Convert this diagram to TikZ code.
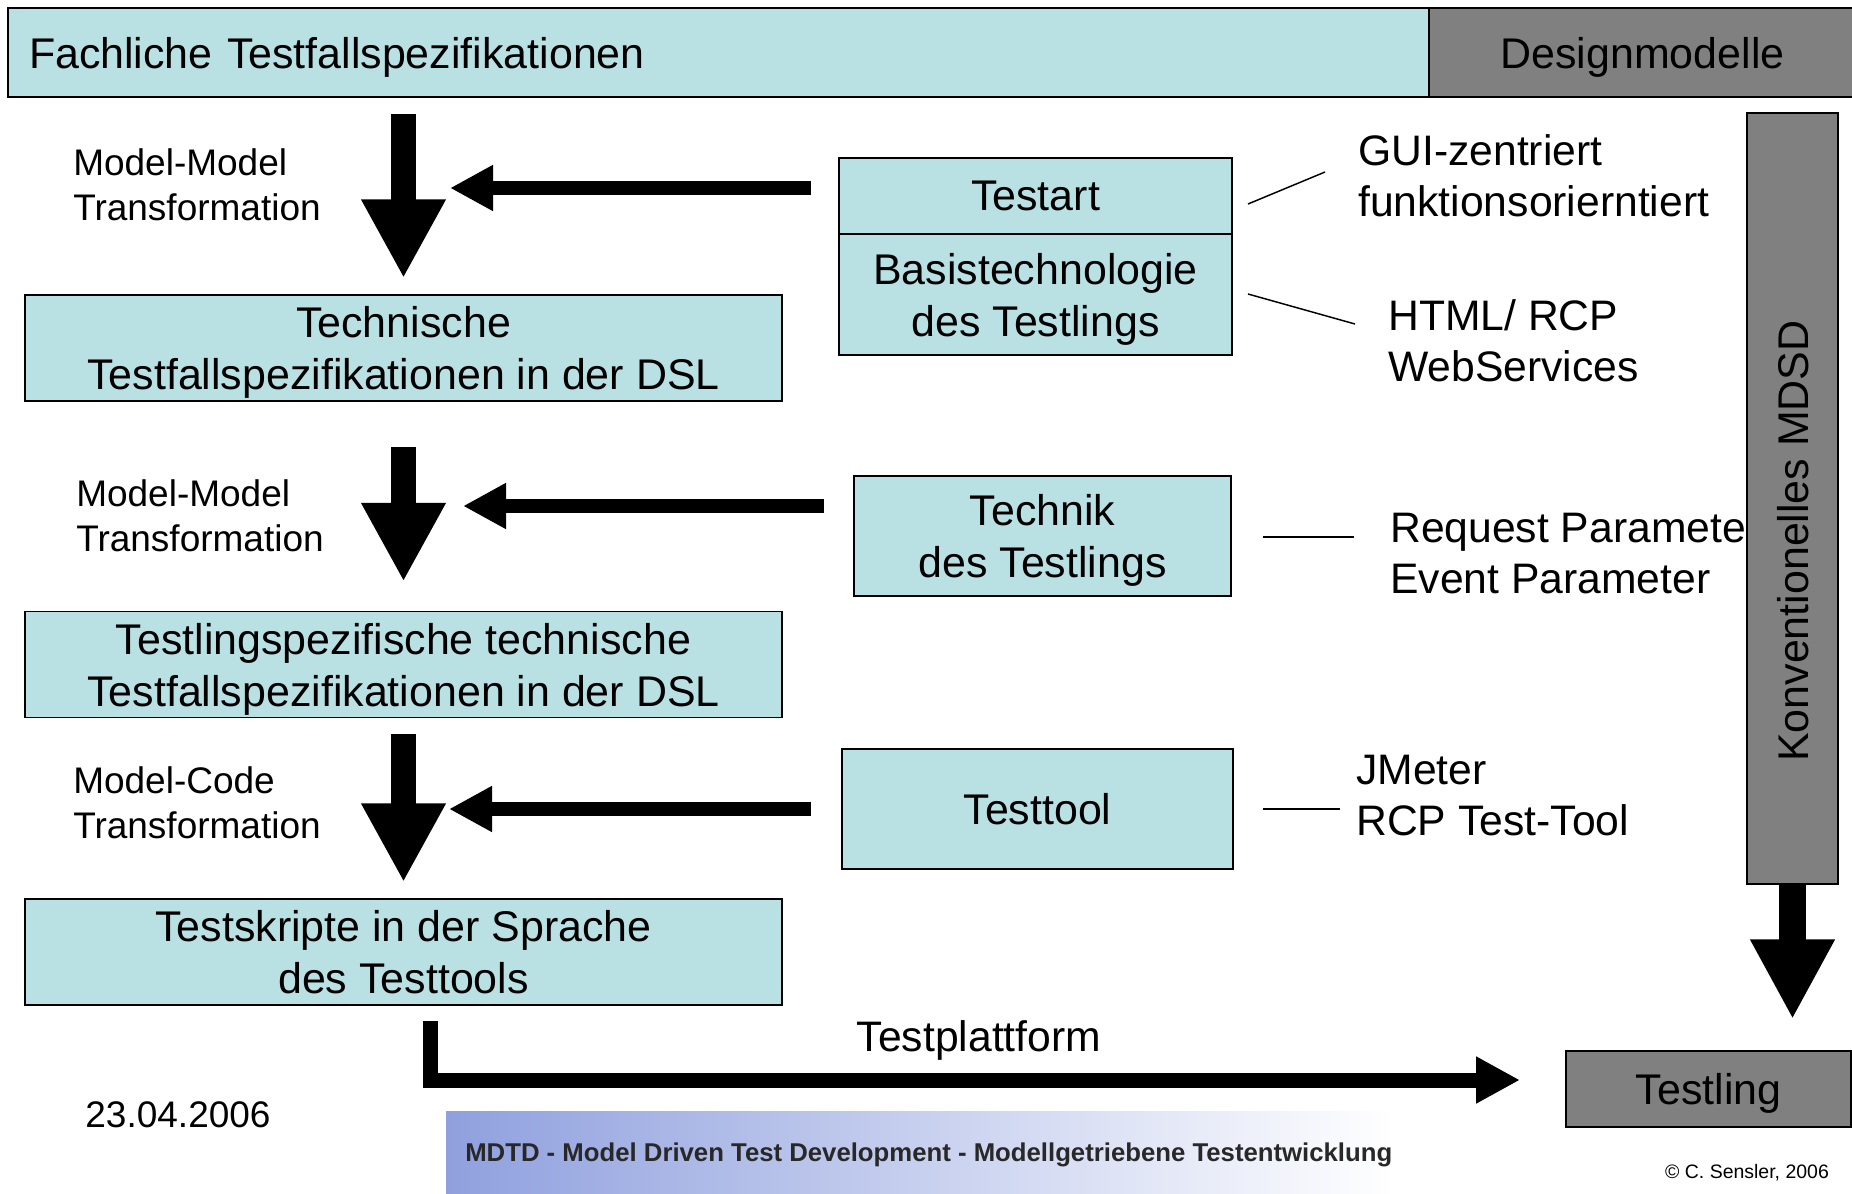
\documentclass[tikz,border=0pt]{standalone}
\usepackage{fontspec}
\setmainfont{Liberation Sans}
\usetikzlibrary{arrows.meta,calc}

\definecolor{specfill}{RGB}{185,224,227}
\definecolor{modelgray}{RGB}{128,128,128}
\definecolor{bannerblue}{RGB}{143,160,222}
\definecolor{bannertext}{RGB}{40,40,40}

\newcommand{\fs}[2]{\fontsize{#1}{#2}\selectfont}
% line without descender depth, so box text is centred on its letters
\newcommand{\nd}[1]{\raisebox{0pt}[\height][0pt]{#1}}

\begin{document}
\begin{tikzpicture}[x=0.75pt,y=-0.75pt,
  panel/.style 2 args={draw=black, line width=1.1pt, inner sep=0pt,
    minimum width={0.75pt*#1}, minimum height={0.75pt*#2},
    align=center, font=\fs{32.2}{39}},
  spec/.style={fill=specfill},
  grey/.style={fill=modelgray},
  note/.style={anchor=west, align=left, inner sep=0pt, font=\fs{32}{38.25}},
  trafo/.style={anchor=west, align=left, inner sep=0pt, font=\fs{27.75}{33.5}},
  flowarrow/.style={line width=18.75pt, -{Triangle[length=59.25pt,width=59.25pt]}},
  feedarrow/.style={line width=10.5pt, -{Triangle[length=32.25pt,width=32.25pt]}},
  leader/.style={line width=1.1pt},
]
\useasboundingbox (0,0) rectangle (1852,1193);

% header bar
\node[panel={1421}{89}, spec, line width=1.5pt, inner xsep=15.75pt,
      text width={0.75pt*1379}, align=left] (fach) at (718.5,52.5)
      {\nd{Fachliche Testfallspezifikationen}};
\node[panel={427}{89}, grey, line width=1.5pt] (design) at (1642.5,52.5)
      {\nd{Designmodelle}};

% left column: specification levels
\node[panel={757}{106}, spec] (tech) at (403.5,348)
  {Technische\\\nd{Testfallspezifikationen in der DSL}};
\node[panel={757}{106}, spec] (tlspec) at (403.5,664.5)
  {Testlingspezifische technische\\\nd{Testfallspezifikationen in der DSL}};
\node[panel={757}{106}, spec] (skript) at (403.5,952)
  {Testskripte in der Sprache\\\nd{des Testtools}};

% middle column: inputs of each transformation
\node[panel={393}{76}, spec] (testart) at (1035.5,196) {\nd{Testart}};
\node[panel={393}{121}, spec] (basis) at (1035.5,294.5)
  {Basistechnologie\\\nd{des Testlings}};
\node[panel={377}{120}, spec] (technik) at (1042.5,536)
  {Technik\\\nd{des Testlings}};
\node[panel={391}{120}, spec] (testtool) at (1037.5,809) {\nd{Testtool}};

% transformation labels
\node[trafo] (lab1) at (73,185) {Model-Model\\Transformation};
\node[trafo] (lab2) at (76,516) {Model-Model\\Transformation};
\node[trafo] (lab3) at (73,803) {Model-Code\\Transformation};

% vertical transformation arrows
\draw[flowarrow, shorten <=12pt, shorten >=12pt]
  (tech.north |- fach.south) -- (tech.north);
\draw[flowarrow, shorten <=33.75pt, shorten >=21.75pt]
  (tech.south) -- (tlspec.north);
\draw[flowarrow, shorten <=12pt, shorten >=12pt]
  (tlspec.south) -- (skript.north);

% inputs feeding the transformations
\coordinate (tip1) at (450,188);
\coordinate (tip2) at (463,506);
\coordinate (tip3) at (449,809);
\draw[feedarrow] ([xshift=-20.25pt,yshift=6pt]testart.west) -- (tip1);
\draw[feedarrow] ([xshift=-21.75pt,yshift=22.5pt]technik.west) -- (tip2);
\draw[feedarrow] ([xshift=-22.5pt]testtool.west) -- (tip3);

% examples for each input
\node[note] (ex1) at (1358,175.5) {GUI-zentriert\\funktionsorierntiert};
\node[note] (ex2) at (1388,341) {HTML/ RCP\\WebServices};
\node[note] (ex3) at (1390,554) {Request Parameter\\Event Parameter};
\node[note] (ex4) at (1356,796) {JMeter\\RCP Test-Tool};

\coordinate (l1a) at (1248,204); \coordinate (l1b) at (1325,172);
\coordinate (l2a) at (1248,294); \coordinate (l2b) at (1355,324);
\coordinate (l3a) at (1263,537); \coordinate (l3b) at (1354,537);
\coordinate (l4a) at (1263,809); \coordinate (l4b) at (1340,809);
\draw[leader] (l1a) -- (l1b);
\draw[leader] (l2a) -- (l2b);
\draw[leader] (l3a) -- (l3b);
\draw[leader] (l4a) -- (l4b);

% conventional MDSD column
\node[panel={91}{771}, grey] (konv) at (1792.5,498.5) {};
\node[rotate=90, inner sep=0pt, font=\fs{32.2}{39}] (konvtext) at (1793,541)
  {\nd{Konventionelles MDSD}};
\node[panel={285}{76}, grey] (testling) at (1708.5,1089) {\nd{Testling}};
\draw[line width=20.25pt, -{Triangle[length=60pt,width=59.25pt]}, shorten >=23.25pt]
  (konv.south) -- (konv.south |- testling.north);

% test platform arrow
\coordinate (ttip) at (1520,1080);
\draw[line width=11.25pt, line join=miter, -{Triangle[length=33pt,width=33pt]}]
  ([xshift=20.6pt,yshift=-11.25pt]skript.south) |- (ttip);
\node[inner sep=0pt, font=\fs{32}{39}] (platform) at (979,1036) {\nd{Testplattform}};

% footer
\node[inner sep=0pt, font=\fs{27.75}{33}] (date) at (178,1115) {23.04.2006};
\shade[left color=bannerblue, right color=white] (446,1111) rectangle (1394,1200);
\node[anchor=west, inner sep=0pt, text=bannertext, font=\bfseries\fs{19.3}{22}] (banner)
  at (465,1155) {MDTD - Model Driven Test Development - Modellgetriebene Testentwicklung};
\node[inner sep=0pt, font=\fs{14.6}{16}] (copy) at (1747,1173) {© C. Sensler, 2006};
\end{tikzpicture}
\end{document}
